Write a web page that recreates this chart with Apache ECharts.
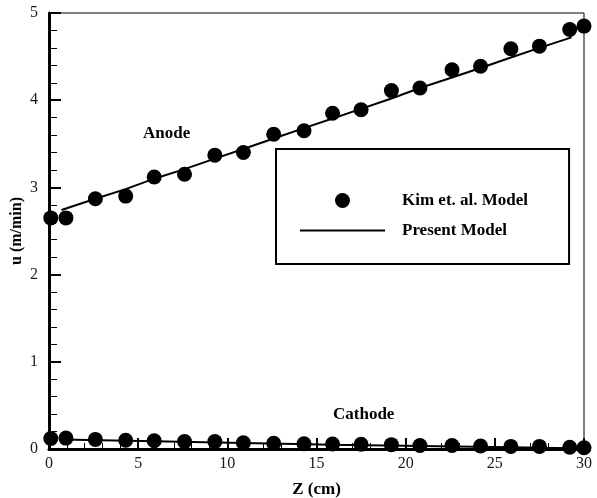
<!DOCTYPE html>
<html><head><meta charset="utf-8">
<script src="https://cdn.jsdelivr.net/npm/echarts@6/dist/echarts.min.js"></script>
<style>html,body{margin:0;padding:0;background:#fff}#c{width:597px;height:498px}</style>
</head><body><div id="c"></div>
<script>
// Kim et. al. Model (points)
var anodeZ = [0.1, 0.95, 2.6, 4.3, 5.9, 7.6, 9.3, 10.9, 12.6, 14.3, 15.9, 17.5, 19.2, 20.8, 22.6, 24.2, 25.9, 27.5, 29.2, 30.0];
var anodeU = [2.65, 2.65, 2.87, 2.90, 3.12, 3.15, 3.37, 3.40, 3.61, 3.65, 3.85, 3.89, 4.11, 4.14, 4.35, 4.39, 4.59, 4.62, 4.81, 4.85];
var cathodeZ = [0.1, 0.95, 2.6, 4.3, 5.9, 7.6, 9.3, 10.9, 12.6, 14.3, 15.9, 17.5, 19.2, 20.8, 22.6, 24.2, 25.9, 27.5, 29.2, 30.0];
var cathodeU = [0.12, 0.125, 0.11, 0.10, 0.095, 0.085, 0.085, 0.072, 0.065, 0.06, 0.057, 0.055, 0.05, 0.04, 0.04, 0.035, 0.03, 0.03, 0.02, 0.015];
// Present Model (lines)
var lineAZ = [0.7, 2.6, 4.3, 5.9, 7.6, 9.3, 10.9, 12.6, 14.3, 15.9, 17.5, 19.2, 20.8, 22.6, 24.2, 25.9, 27.5, 29.3];
var lineAU = [2.74, 2.87, 2.98, 3.10, 3.21, 3.33, 3.44, 3.56, 3.68, 3.79, 3.90, 4.02, 4.14, 4.26, 4.37, 4.49, 4.60, 4.72];
var lineCZ = [0.7, 5.9, 10.9, 15.9, 20.8, 25.9, 29.3];
var lineCU = [0.11, 0.09, 0.07, 0.05, 0.035, 0.02, 0.01];
var xTicks = [0, 5, 10, 15, 20, 25, 30];
var yTicks = [0, 1, 2, 3, 4, 5];

function pairs(a, b) { return a.map(function (v, i) { return [v, b[i]]; }); }

var chart = echarts.init(document.getElementById('c'), null, { renderer: 'canvas' });
var serif = '"Liberation Serif", "Times New Roman", serif';
var axisCommon = {
  type: 'value',
  splitLine: { show: false },
  axisLine: { show: true, onZero: false, lineStyle: { color: '#000', width: 3 } },
  nameTextStyle: { color: '#000', fontFamily: serif, fontSize: 16, fontWeight: 'bold' }
};
chart.setOption({
  animation: false,
  backgroundColor: '#fff',
  grid: { left: 49, right: 13, top: 13, bottom: 49, containLabel: false, outerBoundsMode: 'none',
          show: true, borderColor: '#000', borderWidth: 1, backgroundColor: 'transparent' },
  xAxis: Object.assign({}, axisCommon, {
    min: xTicks[0], max: xTicks[xTicks.length - 1], interval: 5,
    name: 'Z (cm)', nameLocation: 'middle', nameGap: 32,
    nameTextStyle: { color: '#000', fontFamily: serif, fontSize: 17, fontWeight: 'bold' },
    axisTick: { show: true, inside: true, length: 11, lineStyle: { color: '#000', width: 2 } },
    minorTick: { show: true, splitNumber: 5, length: 6, lineStyle: { color: '#000', width: 1 } },
    axisLabel: { color: '#1a1a1a', fontFamily: serif, fontSize: 16, margin: 7 }
  }),
  yAxis: Object.assign({}, axisCommon, {
    min: yTicks[0], max: yTicks[yTicks.length - 1], interval: 1,
    name: 'u (m/min)', nameLocation: 'middle', nameGap: 24, nameRotate: 90, nameMoveOverlap: false,
    axisTick: { show: true, inside: true, length: 12, lineStyle: { color: '#000', width: 2 } },
    minorTick: { show: true, splitNumber: 5, length: 8, lineStyle: { color: '#000', width: 1 } },
    axisLabel: { color: '#1a1a1a', fontFamily: serif, fontSize: 16, margin: 11 }
  }),
  legend: {
    orient: 'vertical', left: 276, top: 149,
    padding: [43, 41, 25, 24], itemGap: 13,
    itemWidth: 85, itemHeight: 15,
    borderColor: '#000', borderWidth: 2,
    data: [
      { name: 'Kim et. al. Model', icon: 'circle' },
      { name: 'Present Model', icon: 'path://M0,0L85,0L85,2L0,2Z' }
    ],
    textStyle: { color: '#000', fontFamily: serif, fontSize: 17, fontWeight: 'bold', padding: [0, 0, 0, 12] }
  },
  graphic: [
    { type: 'text', left: 143, top: 125, style: { text: 'Anode', fill: '#000', font: 'bold 17px ' + serif } },
    { type: 'text', left: 333, top: 406, style: { text: 'Cathode', fill: '#000', font: 'bold 17px ' + serif } }
  ],
  series: [
    { name: 'Present Model', type: 'line', data: pairs(lineAZ, lineAU), symbol: 'none', showSymbol: false,
      lineStyle: { color: '#000', width: 2 }, itemStyle: { color: '#000' }, z: 2 },
    { name: 'Present Model', type: 'line', data: pairs(lineCZ, lineCU), symbol: 'none', showSymbol: false,
      lineStyle: { color: '#000', width: 2 }, itemStyle: { color: '#000' }, z: 2 },
    { name: 'Kim et. al. Model', type: 'scatter', data: pairs(anodeZ, anodeU), symbol: 'circle', symbolSize: 15,
      itemStyle: { color: '#000', opacity: 1 }, z: 3 },
    { name: 'Kim et. al. Model', type: 'scatter', data: pairs(cathodeZ, cathodeU), symbol: 'circle', symbolSize: 15,
      itemStyle: { color: '#000', opacity: 1 }, z: 3 }
  ]
});
</script></body></html>
